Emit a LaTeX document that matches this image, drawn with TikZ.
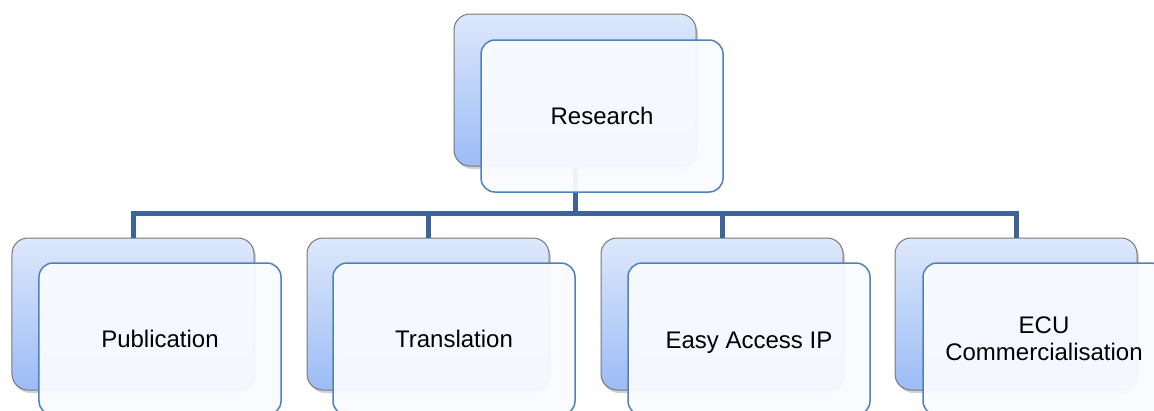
\documentclass[tikz,border=0pt]{standalone}
\usepackage{fontspec}
\setmainfont{Liberation Sans}
\usetikzlibrary{shadows}
\definecolor{backtop}{RGB}{221,232,251}
\definecolor{backbot}{RGB}{156,188,246}
\definecolor{backline}{RGB}{120,120,120}
\definecolor{frontfill}{RGB}{249,251,255}
\definecolor{frontline}{RGB}{79,129,189}
\definecolor{connc}{RGB}{60,100,152}
\tikzset{
 backbox/.style={draw=backline, line width=1bp, rounded corners=16bp, minimum width=242bp, minimum height=152bp, top color=backtop, bottom color=backbot, drop shadow={shadow xshift=2bp, shadow yshift=-3bp, opacity=0.35}, inner sep=0pt},
 frontbox/.style={draw=frontline, line width=1.5bp, rounded corners=14bp, minimum width=242bp, minimum height=152bp, fill=frontfill, fill opacity=0.95, text opacity=1, draw opacity=1, inner sep=0pt, font=\fontsize{24bp}{27bp}\selectfont, align=center},
 conn/.style={draw=connc, line width=5bp, line join=miter}
}
\begin{document}
\begin{tikzpicture}[x=1bp,y=-1bp]
\useasboundingbox (0,0) rectangle (1154,410);
\clip (0,0) rectangle (1154,410);
\fill[white] (0,0) rectangle (1154,410);
% back boxes
\node[backbox] (rb) at (575,90) {};
\node[backbox] (pb) at (133,314) {};
\node[backbox] (tb) at (428,314) {};
\node[backbox] (eb) at (722,314) {};
\node[backbox] (cb) at (1016,314) {};
% connectors
\coordinate (hub) at (rb.south |- 0,213);
\draw[conn] (rb.south) -- (hub);
\draw[conn] (pb.north) |- (hub);
\draw[conn] (tb.north) |- (hub);
\draw[conn] (eb.north) |- (hub);
\draw[conn] (cb.north) |- (hub);
% front boxes
\node[frontbox] (rf) at (602,116) {Research};
\node[frontbox] (pf) at (160,339) {Publication};
\node[frontbox] (tf) at (454,339) {Translation};
\node[frontbox] (ef) at (749,339) {\raisebox{-3bp}[17bp][5bp]{Easy Access IP}};
\node[frontbox] (cf) at (1044,339) {ECU\\Commercialisation};
\end{tikzpicture}
\end{document}
